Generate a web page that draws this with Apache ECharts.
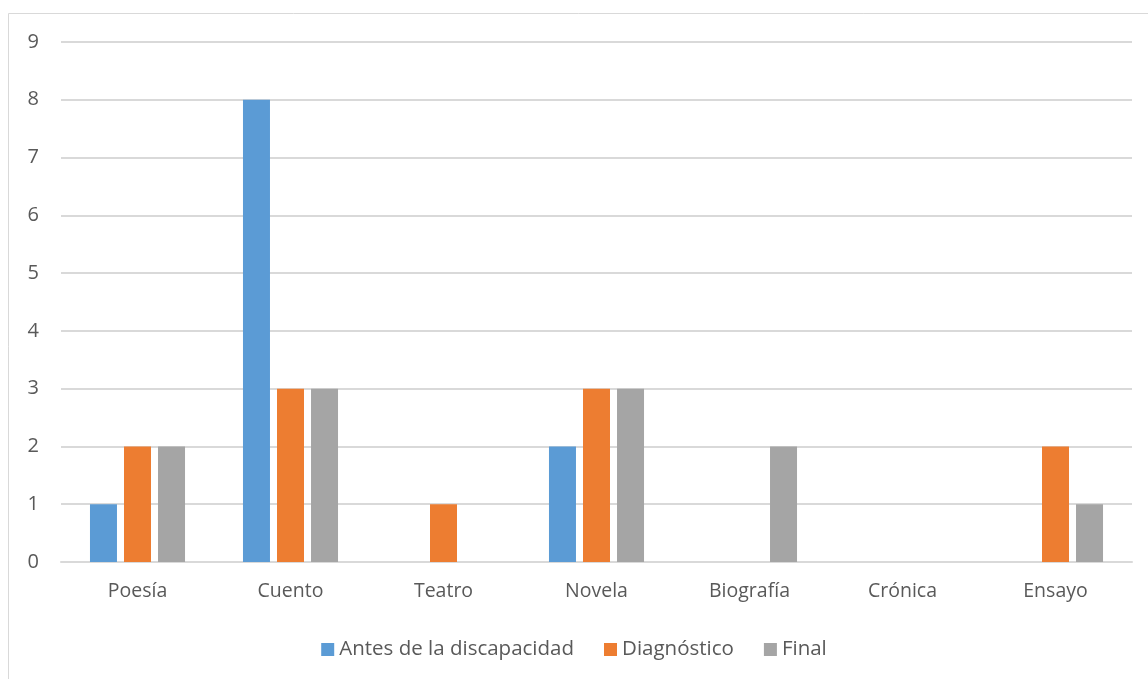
<!DOCTYPE html>
<html><head><meta charset="utf-8">
<script src="https://cdn.jsdelivr.net/npm/echarts@6/dist/echarts.min.js"></script>
<style>html,body{margin:0;padding:0;background:#fff}#c{width:1148px;height:679px}</style>
</head><body><div id="c"></div>
<script>
const categories = ['Poesía','Cuento','Teatro','Novela','Biografía','Crónica','Ensayo'];
const antes = [1,8,0,2,0,0,0];
const diagnostico = [2,3,1,3,0,0,2];
const finalVals = [2,3,0,3,2,0,1];
const yTicks = [0,1,2,3,4,5,6,7,8,9];
const chart = echarts.init(document.getElementById('c'));
const font = '"Open Sans", "DejaVu Sans", sans-serif';
chart.setOption({
  animation:false,
  backgroundColor:'#fff',
  graphic:[{type:'rect',shape:{x:8.5,y:13.5,width:1160,height:700},style:{fill:'none',stroke:'#d9d9d9',lineWidth:1},silent:true}],
  grid:{left:61,right:16,top:42,bottom:117,containLabel:false},
  legend:{top:634,left:'center',itemWidth:13,itemHeight:13,itemGap:30,icon:'rect',
    textStyle:{color:'#595959',fontSize:20.5,fontFamily:font}},
  xAxis:{type:'category',data:categories,
    axisLine:{lineStyle:{color:'#d9d9d9',width:2}},axisTick:{show:false},
    axisLabel:{color:'#595959',fontSize:19.5,fontFamily:font,margin:19}},
  yAxis:{type:'value',min:yTicks[0],max:yTicks[yTicks.length-1],interval:1,
    axisLine:{show:false},axisTick:{show:false},
    splitLine:{lineStyle:{color:'#d9d9d9',width:2}},
    axisLabel:{color:'#595959',fontSize:20,fontFamily:font,margin:22}},
  series:[
    {name:'Antes de la discapacidad',type:'bar',data:antes,barWidth:27,barGap:'26%',itemStyle:{color:'#5B9BD5'}},
    {name:'Diagnóstico',type:'bar',data:diagnostico,barWidth:27,barGap:'26%',itemStyle:{color:'#ED7D31'}},
    {name:'Final',type:'bar',data:finalVals,barWidth:27,barGap:'26%',itemStyle:{color:'#A5A5A5'}}
  ]
});
</script></body></html>
